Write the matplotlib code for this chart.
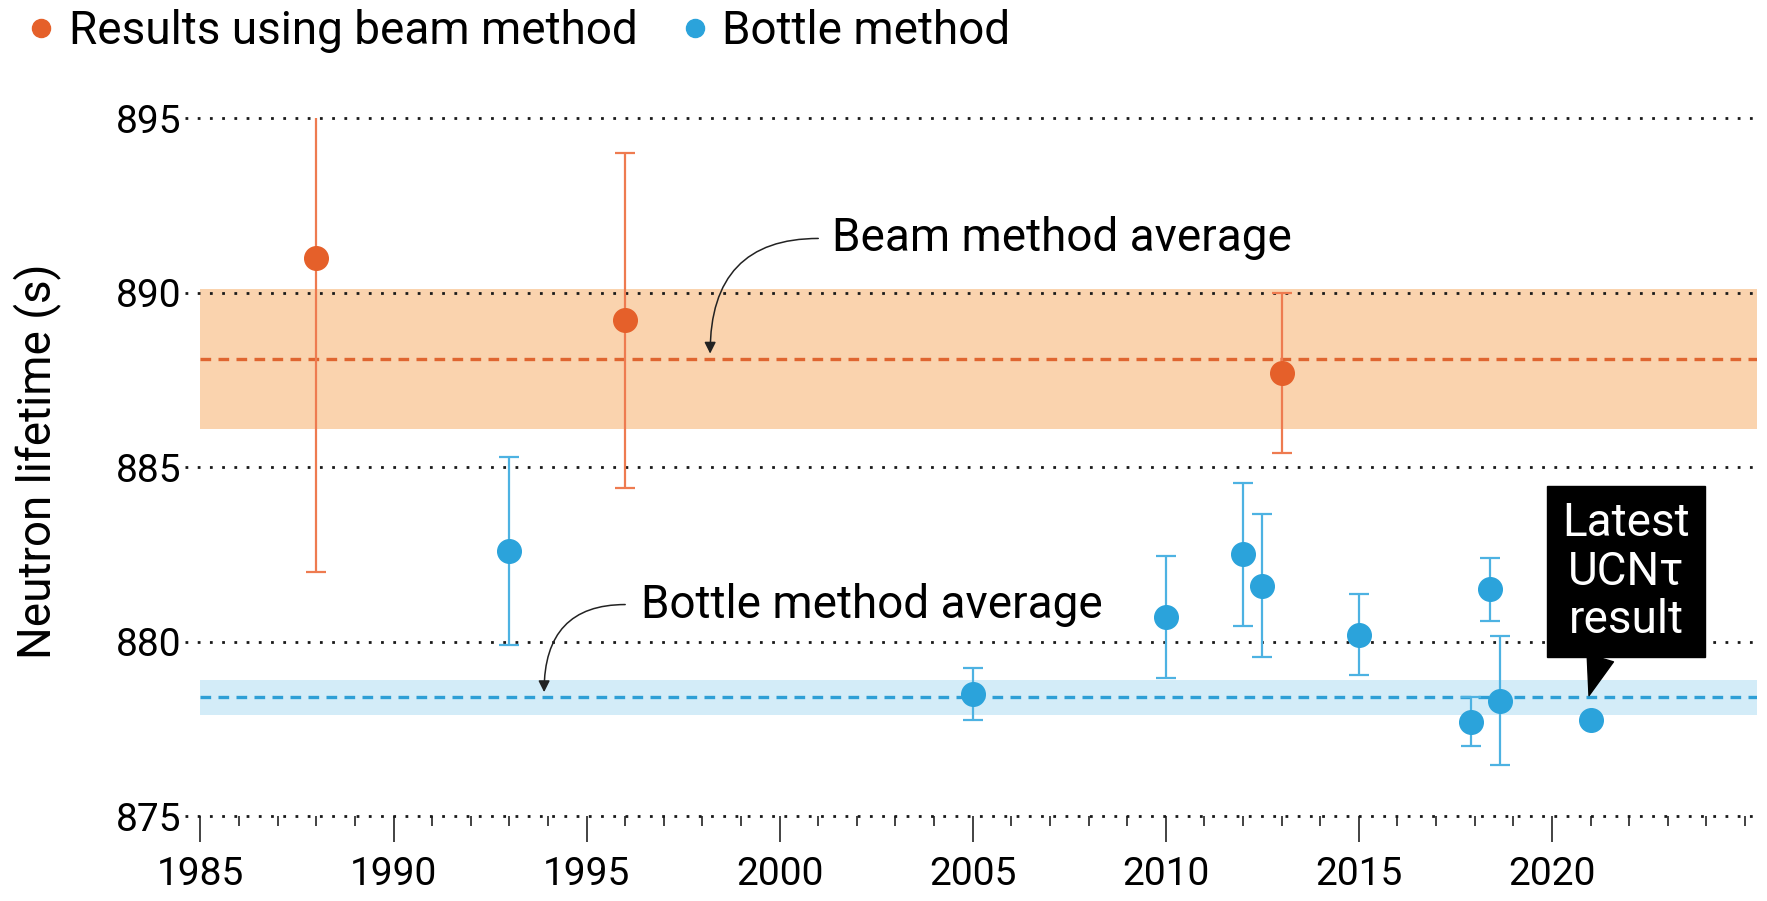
import matplotlib
matplotlib.use("Agg")
import matplotlib.pyplot as plt
from matplotlib.lines import Line2D
from matplotlib.ticker import MultipleLocator

plt.rcParams['font.family'] = ['Roboto', 'DejaVu Sans']

# ---- data ----
beam_years = [1988.0, 1996.0, 2013.0]
beam_vals = [891.0, 889.2, 887.7]
beam_errs = [9.0, 4.8, 2.3]

bottle_years = [1993.0, 2005.0, 2010.0, 2012.0, 2012.5, 2015.0, 2017.9, 2018.4, 2018.65, 2021.0]
bottle_vals = [882.6, 878.5, 880.7, 882.5, 881.6, 880.2, 877.7, 881.5, 878.3, 877.75]
bottle_errs = [2.7, 0.75, 1.75, 2.05, 2.05, 1.16, 0.7, 0.9, 1.85, 0.0]

beam_avg, beam_avg_err = 888.1, 2.0
bottle_avg, bottle_avg_err = 878.4, 0.5

yticks = [875, 880, 885, 890, 895]
xticks = [1985, 1990, 1995, 2000, 2005, 2010, 2015, 2020]

ORANGE = "#E5602A"
ORANGE_ERR = "#EE7B50"
ORANGE_BAND = "#FAD3AE"
BLUE = "#2BA3DB"
BLUE_ERR = "#4DB2E2"
BLUE_BAND = "#D3ECF8"

fig = plt.figure(figsize=(17.67, 9.01), dpi=100)
ax = fig.add_axes([0.1047, 0.0943, 0.8894, 0.7747])
ax.set_xlim(1984.6, 2025.3)
ax.set_ylim(875, 895)
x0 = (1985 - 1984.6) / 40.7

# bands
ax.axhspan(beam_avg - beam_avg_err, beam_avg + beam_avg_err, xmin=x0, xmax=1,
           color=ORANGE_BAND, lw=0, zorder=1)
ax.axhspan(bottle_avg - bottle_avg_err, bottle_avg + bottle_avg_err, xmin=x0, xmax=1,
           color=BLUE_BAND, lw=0, zorder=1)

# dotted grid
for yv in yticks:
    ax.axhline(yv, color="#1a1a1a", lw=2.0, ls=(0, (1, 3.4)), zorder=2, clip_on=False)

# averages
ax.axhline(beam_avg, xmin=x0, color="#DF6530", lw=2.4, ls=(0, (3.2, 2.2)), zorder=3)
ax.axhline(bottle_avg, xmin=x0, color="#2E9FD6", lw=2.4, ls=(0, (3.2, 2.2)), zorder=3)

# data
ax.errorbar(beam_years, beam_vals, yerr=beam_errs, fmt='o', ms=17, color=ORANGE, mec=ORANGE,
            ecolor=ORANGE_ERR, elinewidth=1.6, capsize=7.5, capthick=1.6, zorder=5)
ax.errorbar(bottle_years, bottle_vals, yerr=bottle_errs, fmt='o', ms=17, color=BLUE, mec=BLUE,
            ecolor=BLUE_ERR, elinewidth=1.6, capsize=7.5, capthick=1.6, zorder=5)

# axes styling
for s in ax.spines.values():
    s.set_visible(False)
ax.set_xticks(xticks)
ax.xaxis.set_minor_locator(MultipleLocator(1))
ax.set_yticks(yticks)
ax.tick_params(axis='x', which='major', length=19, width=1.2, color="#222222", pad=10, labelsize=28)
ax.tick_params(axis='x', which='minor', length=7, width=1.2, color="#222222")
ax.tick_params(axis='y', which='both', length=0, pad=2.5, labelsize=28)
ax.set_ylabel("Neutron lifetime (s)", fontsize=33, va='center')
ax.yaxis.set_label_coords(-0.094, 0.509)

# annotations
ax.text(2001.35, 891.55, "Beam method average", fontsize=33, ha='left', va='center', zorder=6)
ax.annotate("", xy=(1998.2, 888.25), xytext=(2001.0, 891.55),
            arrowprops=dict(arrowstyle='-|>', color='#222222', lw=1.1, mutation_scale=17,
                            shrinkA=0, shrinkB=0, connectionstyle="angle3,angleA=0,angleB=90"),
            zorder=6)
ax.text(1996.4, 881.06, "Bottle method average", fontsize=33, ha='left', va='center', zorder=6)
ax.annotate("", xy=(1993.9, 878.55), xytext=(1996.0, 881.06),
            arrowprops=dict(arrowstyle='-|>', color='#222222', lw=1.1, mutation_scale=17,
                            shrinkA=0, shrinkB=0, connectionstyle="angle3,angleA=0,angleB=90"),
            zorder=6)

ax.annotate("Latest\nUCNτ\nresult", xy=(2020.96, 878.45), xytext=(2021.92, 882.0),
            ha='center', va='center', color='white', fontsize=33, linespacing=1.13,
            bbox=dict(boxstyle='square,pad=0.33', fc='black', ec='black'),
            arrowprops=dict(arrowstyle='wedge,tail_width=0.6', fc='black', ec='black',
                            shrinkA=0, shrinkB=0),
            zorder=7)

# legend
handles = [Line2D([], [], ls='none', marker='o', ms=13, color=ORANGE),
           Line2D([], [], ls='none', marker='o', ms=13, color=BLUE)]
fig.legend(handles, ["Results using beam method", "Bottle method"], loc='center left',
           bbox_to_anchor=(0.0, 0.966), ncol=2, frameon=False, fontsize=33,
           handletextpad=0.1, columnspacing=0.75, handlelength=1.0, borderaxespad=0)

fig.savefig("out.png", dpi=100)
